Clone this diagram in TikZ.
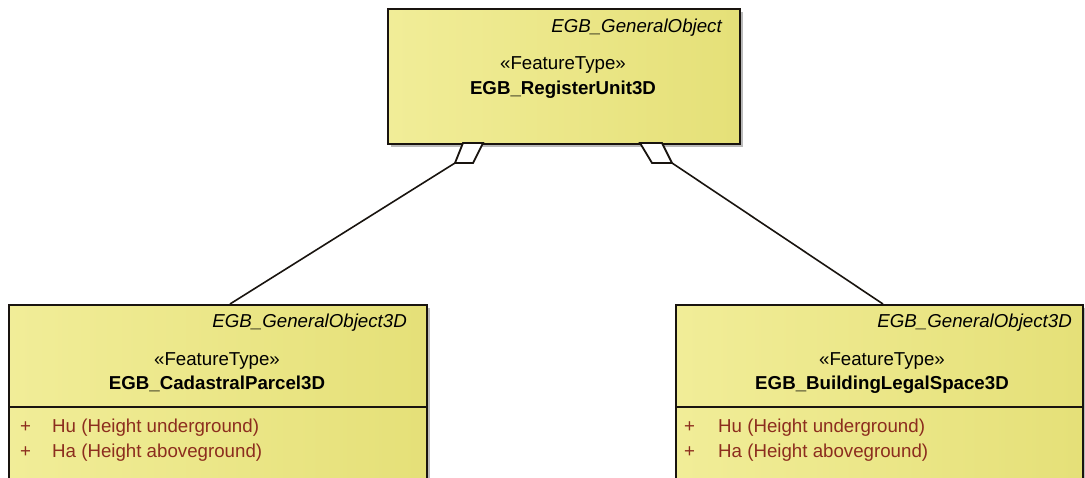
\documentclass[tikz,border=0pt]{standalone}
\usepackage{fontspec}
\setmainfont{Liberation Sans}
\usetikzlibrary{shadows}
\definecolor{boxl}{RGB}{241,237,152}
\definecolor{boxm}{RGB}{246,242,156}
\definecolor{boxr}{RGB}{229,224,120}
\definecolor{attr}{RGB}{140,45,30}
\definecolor{edge}{RGB}{25,20,15}
\begin{document}
\begin{tikzpicture}[x=1pt,y=-1pt,
  cls/.style={draw=edge, line width=1.8pt, left color=boxl, middle color=boxm, right color=boxr,
    anchor=north west, inner sep=0pt,
    drop shadow={shadow xshift=3.5pt, shadow yshift=-3.5pt, fill=black!45, opacity=0.6}},
  txt/.style={inner sep=0pt, anchor=base, font=\fontsize{18.7}{21}\selectfont},
  stereo/.style={txt},
  cname/.style={txt, font=\fontsize{18.7}{21}\selectfont\bfseries},
  parent/.style={txt, anchor=base east, font=\fontsize{18.7}{21}\selectfont\itshape},
  attrtxt/.style={txt, anchor=base west, text=attr},
  sep/.style={draw=edge, line width=1.8pt},
  agg/.style={draw=edge, line width=1.8pt, fill=white, line join=miter},
  conn/.style={draw=edge, line width=1.6pt}
]
\useasboundingbox (0,0) rectangle (1085,477);
\clip (0,0) rectangle (1085,477);

% top class
\node[cls, minimum width=352pt, minimum height=135pt] (top) at (387,8) {};
\node[parent] (topp) at (722,32) {EGB\_GeneralObject};
\node[stereo] (tops) at (563,69) {«FeatureType»};
\node[cname] (topn) at (563,94) {EGB\_RegisterUnit3D};

% left class
\node[cls, minimum width=418pt, minimum height=200pt] (lc) at (8,304) {};
\draw[sep] (lc.west |- 0,407) coordinate (lsa) -- (lc.east |- 0,407) coordinate (lsb);
\node[parent] (lcp) at (407,327) {EGB\_GeneralObject3D};
\node[stereo] (lcs) at (217,365) {«FeatureType»};
\node[cname] (lcn) at (217,389) {EGB\_CadastralParcel3D};
\node[attrtxt] (lp1) at (20,432) {+};
\node[attrtxt] (la1) at (52,432) {Hu (Height underground)};
\node[attrtxt] (lp2) at (20,457) {+};
\node[attrtxt] (la2) at (52,457) {Ha (Height aboveground)};

% right class
\node[cls, minimum width=407pt, minimum height=200pt] (rc) at (675,304) {};
\draw[sep] (rc.west |- 0,407) coordinate (rsa) -- (rc.east |- 0,407) coordinate (rsb);
\node[parent] (rcp) at (1072,327) {EGB\_GeneralObject3D};
\node[stereo] (rcs) at (882,365) {«FeatureType»};
\node[cname] (rcn) at (882,389) {EGB\_BuildingLegalSpace3D};
\node[attrtxt] (rp1) at (684,432) {+};
\node[attrtxt] (ra1) at (718,432) {Hu (Height underground)};
\node[attrtxt] (rp2) at (684,457) {+};
\node[attrtxt] (ra2) at (718,457) {Ha (Height aboveground)};

% aggregation connectors
\coordinate (ld1) at (463,143);
\coordinate (ld2) at (483,143);
\coordinate (ld3) at (473,163);
\coordinate (ld4) at (455,163);
\coordinate (lend) at (230,304);
\draw[conn] (ld4) -- (lend);
\draw[agg] (ld1) -- (ld2) -- (ld3) -- (ld4) -- cycle;

\coordinate (rd1) at (640,143);
\coordinate (rd2) at (662,143);
\coordinate (rd3) at (672,163);
\coordinate (rd4) at (652,163);
\coordinate (rend) at (883,304);
\draw[conn] (rd3) -- (rend);
\draw[agg] (rd1) -- (rd2) -- (rd3) -- (rd4) -- cycle;
\end{tikzpicture}
\end{document}
